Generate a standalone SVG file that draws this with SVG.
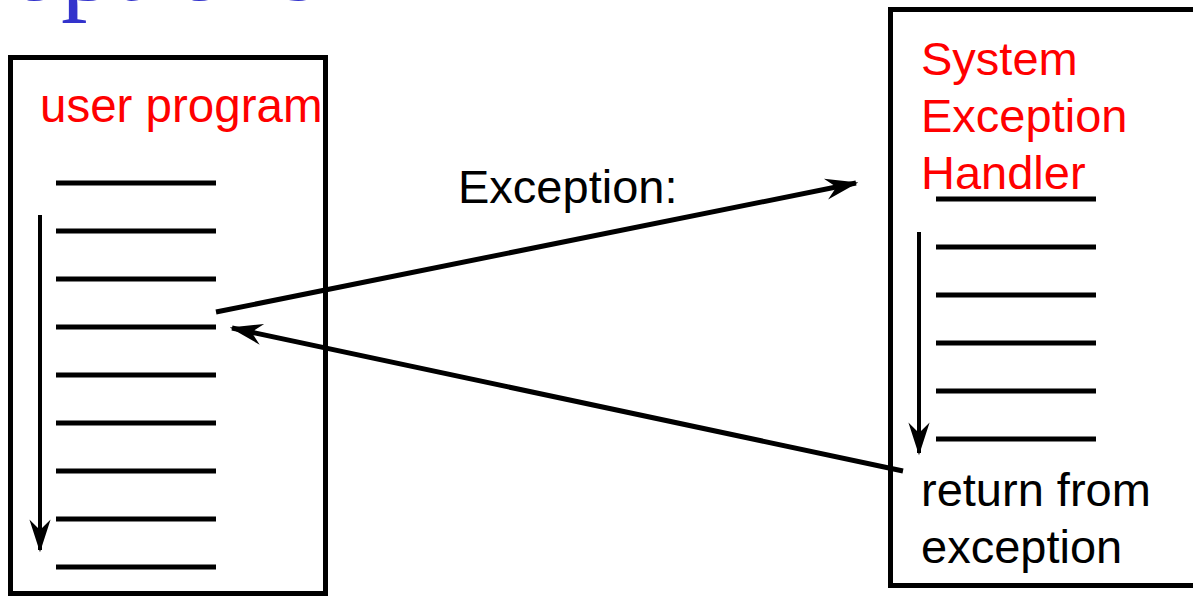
<svg xmlns="http://www.w3.org/2000/svg" width="1193" height="596" viewBox="0 0 1193 596">
  <style>
    .box { fill: #ffffff; stroke: #000000; stroke-width: 5; }
    .row { stroke: #000000; stroke-width: 5; }
    .red { fill: #ff0000; font-family: "Liberation Sans", Arial, sans-serif; font-size: 47px; }
    .blk { fill: #000000; font-family: "Liberation Sans", Arial, sans-serif; font-size: 47px; }
    .title { fill: #3333cc; font-family: "Liberation Serif", "Times New Roman", serif; font-size: 106px; }
    .conn { stroke: #000000; stroke-width: 5; fill: none; }
    .flow { stroke: #000000; stroke-width: 4; fill: none; }
  </style>
  <defs>
    <marker id="stealth" markerUnits="userSpaceOnUse" markerWidth="40" markerHeight="30" viewBox="-30 -12 34 24" refX="0" refY="0" orient="auto">
      <path d="M2,0 L-26,-9 L-17,0 L-26,9 Z" fill="#000000"/>
    </marker>
  </defs>
  <rect width="1193" height="596" fill="#ffffff"/>

  <text class="title" x="8" y="0">options</text>

  <g id="user-program">
    <rect class="box" x="10.5" y="57.5" width="315" height="536"/>
    <text class="red" x="40" y="122" style="font-size:47.5px">user program</text>
    <g>
      <line class="row" x1="56" y1="183" x2="216" y2="183"/>
      <line class="row" x1="56" y1="231" x2="216" y2="231"/>
      <line class="row" x1="56" y1="279" x2="216" y2="279"/>
      <line class="row" x1="56" y1="327" x2="216" y2="327"/>
      <line class="row" x1="56" y1="375" x2="216" y2="375"/>
      <line class="row" x1="56" y1="423" x2="216" y2="423"/>
      <line class="row" x1="56" y1="471" x2="216" y2="471"/>
      <line class="row" x1="56" y1="519" x2="216" y2="519"/>
      <line class="row" x1="56" y1="567" x2="216" y2="567"/>
    </g>
    <line class="flow" x1="40" y1="215" x2="40" y2="550" marker-end="url(#stealth)"/>
  </g>

  <g id="system-exception-handler">
    <rect class="box" x="890.5" y="9.5" width="320" height="576"/>
    <text class="red" x="921" y="75">System</text>
    <text class="red" x="921" y="132">Exception</text>
    <text class="red" x="921" y="189">Handler</text>
    <g>
      <line class="row" x1="936" y1="199" x2="1096" y2="199"/>
      <line class="row" x1="936" y1="247" x2="1096" y2="247"/>
      <line class="row" x1="936" y1="295" x2="1096" y2="295"/>
      <line class="row" x1="936" y1="343" x2="1096" y2="343"/>
      <line class="row" x1="936" y1="391" x2="1096" y2="391"/>
      <line class="row" x1="936" y1="439" x2="1096" y2="439"/>
    </g>
    <line class="flow" x1="919" y1="232" x2="919" y2="453" marker-end="url(#stealth)"/>
    <text class="blk" x="921" y="506">return from</text>
    <text class="blk" x="921" y="563">exception</text>
  </g>

  <g id="connectors">
    <line class="conn" x1="216" y1="312" x2="856" y2="183" marker-end="url(#stealth)"/>
    <text class="blk" x="458" y="203">Exception:</text>
    <line class="conn" x1="903" y1="471" x2="232" y2="328" marker-end="url(#stealth)"/>
  </g>
</svg>
